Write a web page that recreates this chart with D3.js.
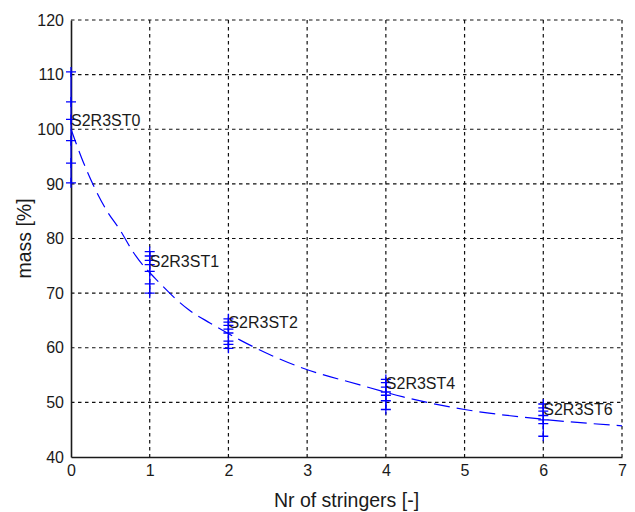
<!DOCTYPE html>
<html>
<head>
<meta charset="utf-8">
<script src="https://cdn.jsdelivr.net/npm/d3@7"></script>
<style>
  body { margin: 0; background: #fff; }
  svg { display: block; font-family: Arial, "Liberation Sans", sans-serif; }
</style>
</head>
<body>
<div id="chart-area"></div>
<script>
// x positions of the configurations and their mass values [%]
var stringers = [0, 1, 2, 4, 6];
var names = ['S2R3ST0', 'S2R3ST1', 'S2R3ST2', 'S2R3ST4', 'S2R3ST6'];
var massST0 = [110.5, 105.0, 101.8, 97.9, 93.8, 90.2];
var massST1 = [77.6, 76.8, 76.0, 75.2, 74.0, 71.7, 70.0];
var massST2 = [65.3, 64.7, 64.1, 63.4, 62.7, 61.2, 60.6, 59.9];
var massST4 = [54.2, 53.6, 52.8, 51.9, 51.3, 50.3, 48.7];
var massST6 = [49.7, 49.0, 48.4, 47.6, 46.8, 46.1, 43.8];
var labelMass = [100.6, 74.7, 63.7, 52.4, 47.7];

// fitted trend (dashed line)
var fitX = [0, 0.15, 0.45, 0.62, 0.8, 1.13, 1.5, 1.77, 2.15, 2.9, 3.67, 4.22, 5, 6, 7];
var fitMass = [100, 94.2, 85.2, 81.6, 77.3, 71.8, 66.9, 64.5, 61.4, 56.5, 53.2, 51.0, 48.7, 46.9, 45.7];

var xTicks = [0, 1, 2, 3, 4, 5, 6, 7];
var yTicks = [40, 50, 60, 70, 80, 90, 100, 110, 120];

var W = 635, H = 512;
var margin = {left: 71, right: 13, top: 20, bottom: 55};
var width = W - margin.left - margin.right;
var height = H - margin.top - margin.bottom;

var svg = d3.select('#chart-area').append('svg')
    .attr('width', W)
    .attr('height', H);

var g = svg.append('g')
    .attr('transform', 'translate(' + margin.left + ',' + margin.top + ')');

var x = d3.scaleLinear().domain([0, 7]).range([0, width]);
var y = d3.scaleLinear().domain([40, 120]).range([height, 0]);

// dotted grid
g.append('g').selectAll('line')
    .data(xTicks.slice(1))
    .enter().append('line')
    .attr('x1', function(d){ return x(d); })
    .attr('x2', function(d){ return x(d); })
    .attr('y1', 0)
    .attr('y2', height)
    .attr('stroke', '#111')
    .attr('stroke-width', 1.2)
    .attr('stroke-dasharray', '3.5,3.5');

g.append('g').selectAll('line')
    .data(yTicks.slice(1))
    .enter().append('line')
    .attr('x1', 0)
    .attr('x2', width)
    .attr('y1', function(d){ return y(d); })
    .attr('y2', function(d){ return y(d); })
    .attr('stroke', '#111')
    .attr('stroke-width', 1.2)
    .attr('stroke-dasharray', '3.5,3.5');

// axes (left + bottom only)
var axisX = d3.axisBottom(x).tickValues(xTicks).tickSize(0).tickPadding(8).tickFormat(d3.format('d'));
var gx = g.append('g')
    .attr('transform', 'translate(0,' + height + ')')
    .call(axisX);
gx.select('.domain').attr('stroke', '#1a1a1a').attr('stroke-width', 1.6);
gx.selectAll('text').attr('font-size', 16).attr('fill', '#1a1a1a').attr('font-family', 'Arial, Liberation Sans, sans-serif');

var axisY = d3.axisLeft(y).tickValues(yTicks).tickSize(0).tickPadding(7);
var gy = g.append('g').call(axisY);
gy.select('.domain').attr('stroke', '#1a1a1a').attr('stroke-width', 1.6);
gy.selectAll('text').attr('font-size', 16).attr('fill', '#1a1a1a').attr('font-family', 'Arial, Liberation Sans, sans-serif');

// fitted dashed curve
var line = d3.line()
    .x(function(d, i){ return x(fitX[i]); })
    .y(function(d){ return y(d); })
    .curve(d3.curveMonotoneX);

g.append('path')
    .datum(fitMass)
    .attr('d', line)
    .attr('fill', 'none')
    .attr('stroke', '#0000ff')
    .attr('stroke-width', 1.2)
    .attr('stroke-dasharray', '16,7');

// measured runs: vertical line through + markers
var runs = [massST0, massST1, massST2, massST4, massST6];
var groups = g.selectAll('.run')
    .data(runs)
    .enter().append('g')
    .attr('class', 'run');

groups.append('line')
    .attr('x1', function(d, i){ return x(stringers[i]); })
    .attr('x2', function(d, i){ return x(stringers[i]); })
    .attr('y1', function(d){ return y(d3.max(d)); })
    .attr('y2', function(d){ return y(d3.min(d)); })
    .attr('stroke', '#0000ff')
    .attr('stroke-width', 1.2);

groups.each(function(vals, i){
    var cx = x(stringers[i]);
    d3.select(this).selectAll('path.mk')
        .data(vals)
        .enter().append('path')
        .attr('class', 'mk')
        .attr('d', function(d){
            var cy = y(d);
            return 'M' + (cx - 5) + ',' + cy + 'H' + (cx + 5) + 'M' + cx + ',' + (cy - 5) + 'V' + (cy + 5);
        })
        .attr('stroke', '#0000ff')
        .attr('stroke-width', 1.3)
        .attr('fill', 'none');
});

// run labels
g.selectAll('.lbl')
    .data(names)
    .enter().append('text')
    .attr('class', 'lbl')
    .attr('x', function(d, i){ return x(stringers[i]); })
    .attr('y', function(d, i){ return y(labelMass[i]); })
    .attr('font-size', 16)
    .attr('fill', '#1a1a1a')
    .text(function(d){ return d; });

// axis titles
svg.append('text')
    .attr('x', margin.left + width / 2)
    .attr('y', 507)
    .attr('text-anchor', 'middle')
    .attr('font-size', 19.5)
    .attr('fill', '#1a1a1a')
    .text('Nr of stringers [-]');

svg.append('text')
    .attr('transform', 'translate(31,' + (margin.top + height / 2) + ') rotate(-90)')
    .attr('text-anchor', 'middle')
    .attr('font-size', 19.5)
    .attr('fill', '#1a1a1a')
    .text('mass [%]');
</script>
</body>
</html>
